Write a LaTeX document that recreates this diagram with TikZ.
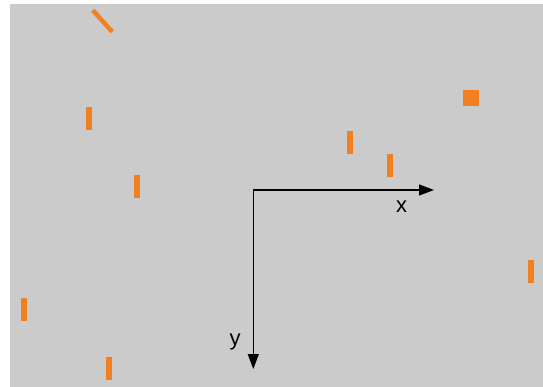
\documentclass[tikz,border=0pt]{standalone}
\usepackage{fontspec}
\setmainfont{Liberation Sans}
\usetikzlibrary{arrows.meta}
\definecolor{panelgray}{RGB}{203,203,203}
\definecolor{markorange}{RGB}{242,128,32}
\tikzset{>={Triangle[length=15pt,width=11pt]}}
\tikzset{%
    bar/.style={fill=markorange, draw=none, inner sep=0pt, minimum width=6pt, minimum height=23pt},
    axis/.style={->, line width=1.3pt, black},
    axislabel/.style={anchor=base, inner sep=0pt, font=\fontsize{22}{24}\selectfont}
}
\begin{document}
\begin{tikzpicture}[x=1pt,y=-1pt]
    \useasboundingbox (0,0) rectangle (543,387);
    \fill[white] (0,0) rectangle (543,387);
	\fill[panelgray] (10,4) rectangle (543,387);
	% orange marks
	\node[bar, rotate=42, minimum height=29pt, minimum width=4.5pt] (m0) at (102.5,21) {};
	\node[bar] (m1) at (89,118.5) {};
	\node[bar] (m2) at (137,186.5) {};
	\node[bar] (m3) at (350,143) {};
	\node[bar] (m4) at (390,165.5) {};
	\node[bar, minimum width=16pt, minimum height=16pt] (sq) at (471,98.5) {};
	\node[bar] (m5) at (530.5,271.5) {};
	\node[bar] (m6) at (23.5,309.5) {};
	\node[bar] (m7) at (108.5,368.5) {};
	% axes
	\coordinate (o) at (253.3,190);
	\coordinate (ocorner) at (253.3,189.35);
	\coordinate (xend) at (434,190);
	\coordinate (yend) at (253.3,369);
	\draw[axis] (o) -- (xend);
	\draw[axis] (ocorner) -- (yend);
	\node[axislabel] (xl) at (401.5,213) {x};
	\node[axislabel] (yl) at (235,345) {y};
\end{tikzpicture}
\end{document}
